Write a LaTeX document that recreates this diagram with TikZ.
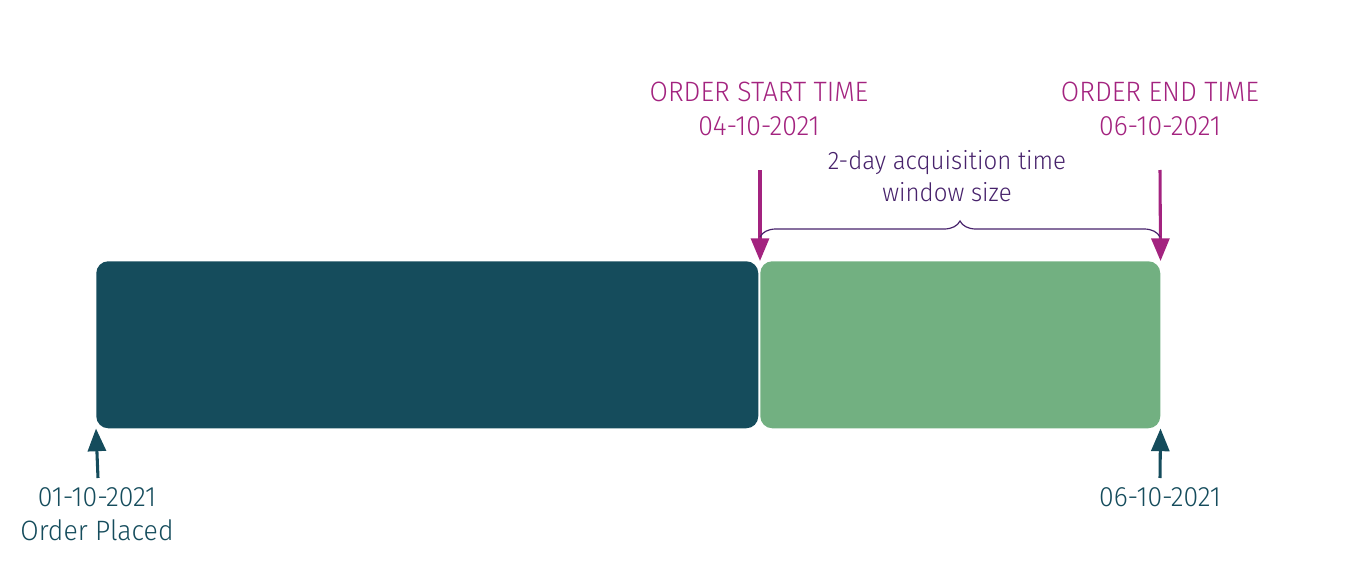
\documentclass[tikz,border=0pt]{standalone}
\usepackage{fontspec}
\setmainfont[FakeStretch=0.95]{Fira Sans Light}
\usepackage{tikz}
\usetikzlibrary{arrows.meta}
\usetikzlibrary{decorations.pathreplacing}
\definecolor{tealdark}{HTML}{154C5C}
\definecolor{windowgreen}{HTML}{72B081}
\definecolor{ordermag}{HTML}{A3237F}
\definecolor{bracepurple}{HTML}{47226B}
\tikzset{
  bar/.style = {rounded corners=9pt, inner sep=0pt, anchor=north west},
  magarrow/.style = {ordermag, line width=2.3pt, -{Triangle[length=17pt,width=13.5pt]}},
  tealarrow/.style = {tealdark, line width=2.3pt, -{Triangle[length=17pt,width=13.5pt]}},
  maglabel/.style = {ordermag, font=\fontsize{21}{25.5}\selectfont, align=center},
  teallabel/.style = {tealdark, font=\fontsize{21}{25.5}\selectfont, align=center},
}
\begin{document}
\begin{tikzpicture}[x=0.75pt, y=-0.75pt]
 \useasboundingbox (0,0) rectangle (1345,567);
 % the two periods
 \node (placed) [bar, fill=tealdark, minimum width=496.5pt, minimum height=125.25pt] at (96,261) {};
 \node (window) [bar, fill=windowgreen, minimum width=300pt, minimum height=125.25pt] at (760,261) {};
 % order start and end
 \node (startlbl) [maglabel] at (759,109) {ORDER START TIME\\04-10-2021};
 \node (endlbl) [maglabel] at (1160,109) {ORDER END TIME\\06-10-2021};
 \coordinate (starttop) at (760,170);
 \coordinate (endtop) at (1160,170);
 \draw[magarrow] (starttop) -- (window.north west);
 \draw[magarrow] (endtop) -- (window.north east);
 % window size
 \coordinate (braceL) at (760,237);
 \coordinate (braceR) at (1160,237);
 \draw[bracepurple, line width=0.9pt, decorate, decoration={brace, amplitude=12pt}] (braceL) -- (braceR);
 \node (sizelbl) [bracepurple, font=\fontsize{19}{24}\selectfont, align=center] at (947,176) {2-day acquisition time\\window size};
 % placed and delivered
 \coordinate (placedfoot) at (98,478);
 \coordinate (endfoot) at (1160,478);
 \draw[tealarrow] (placedfoot) -- (placed.south west);
 \draw[tealarrow] (endfoot) -- (window.south east);
 \node (placedlbl) [teallabel] at (97,514) {01-10-2021\\Order Placed};
 \node (endfootlbl) [teallabel] at (1160,497) {06-10-2021};
\end{tikzpicture}
\end{document}
